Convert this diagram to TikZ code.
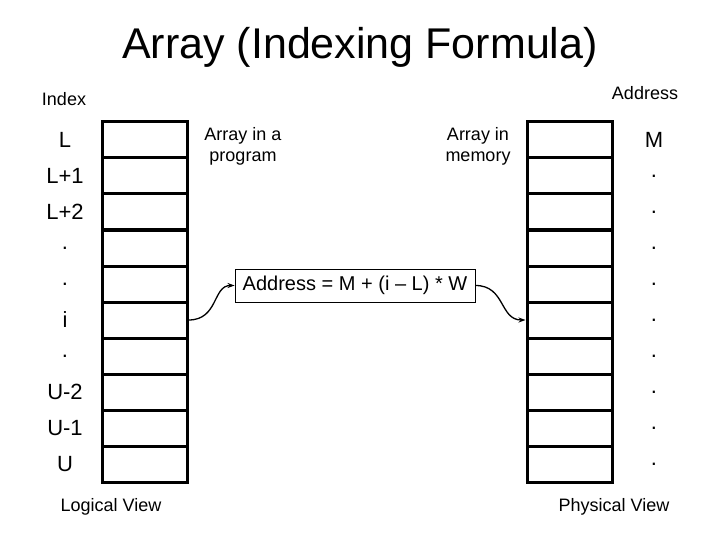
\documentclass[tikz,border=0pt]{standalone}
\usepackage{fontspec}
\setmainfont{Liberation Sans}
\usetikzlibrary{arrows.meta}
\begin{document}
\begin{tikzpicture}[x=1pt,y=-1pt,
  cell/.style={draw,line width=3pt,minimum width=85pt,minimum height=36pt,inner sep=0pt,anchor=center},
  idx/.style={font=\fontsize{22}{24}\selectfont,anchor=center},
  small/.style={font=\fontsize{18}{21}\selectfont,align=center},
  conn/.style={line width=1.3pt,-{Stealth[length=7pt,width=5pt]}}]
\useasboundingbox (0,0) rectangle (720,540);
\node[font=\fontsize{43}{48}\selectfont] (title) at (360,47) {Array (Indexing Formula)};
\node[small,anchor=center] (index) at (64,99) {Index};
\node[small,anchor=center] (address) at (645,93) {Address};
\foreach \k/\t in {1/L,2/L+1,3/L+2,4/.,5/.,6/i,7/.,8/U-2,9/U-1,10/U}{
  \node[cell] (lc\k) at (144.5,{104+36*\k}) {};
  \node[idx] (li\k) at (65,{104+36*\k}) {\t};
}
\foreach \k/\t in {1/M,2/.,3/.,4/.,5/.,6/.,7/.,8/.,9/.,10/.}{
  \node[cell] (rc\k) at (569.5,{104+36*\k}) {};
  \node[idx] (ri\k) at (654,{104+36*\k}) {\t};
}
\node[small] (prog) at (243,146) {Array in a\\program};
\node[small] (mem) at (478,146) {Array in\\memory};
\node[draw,line width=0.9pt,minimum width=240pt,minimum height=33pt,inner sep=0pt,font=\fontsize{20}{23}\selectfont] (formula) at (355,285.5) {Address = M + (i – L) * W};
\node[small] (logical) at (111,507) {Logical View};
\node[small] (physical) at (614,507) {Physical View};
\draw[conn] (lc6.east) .. controls +(30,0) and +(-22,0) .. (formula.west);
\draw[conn] (formula.east) .. controls +(30,0) and +(-26,0) .. (rc6.west);
\end{tikzpicture}
\end{document}
